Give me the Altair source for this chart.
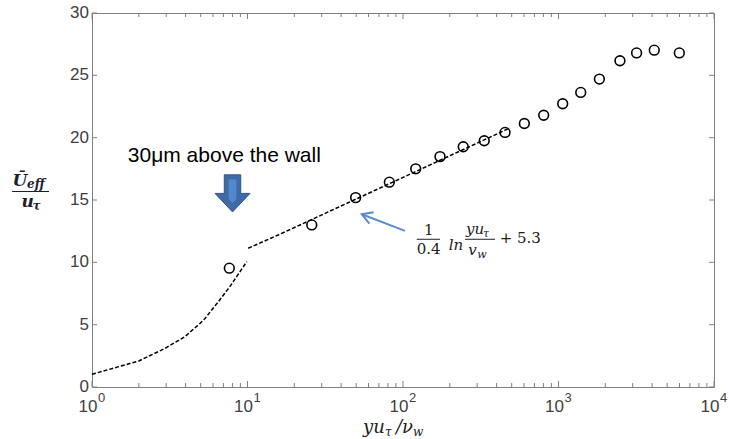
import altair as alt
import pandas as pd

# ---------------- data ----------------
# experimental points (circles)
exp_yplus = [7.64, 25.9, 49.6, 81.7, 120.7, 173, 244, 333, 453, 603, 803,
             1064, 1390, 1832, 2484, 3178, 4129, 5984]
exp_u = [9.53, 13.0, 15.19, 16.43, 17.5, 18.48, 19.27, 19.75, 20.42, 21.14,
         21.8, 22.72, 23.63, 24.7, 26.17, 26.8, 27.02, 26.8]

# viscous-sublayer curve (dashed)
sub_yplus = [1.0, 2.0, 2.95, 3.96, 4.95, 5.33, 6.5, 7.7, 9.9]
sub_u = [1.02, 2.09, 3.1, 4.04, 5.1, 5.5, 6.85, 8.05, 10.06]

# log-law line (dashed)
log_yplus = [10.1, 16.2, 50, 100, 200, 488]
log_u = [11.13, 12.26, 15.08, 16.81, 18.55, 20.78]

# axes
y_ticks = [0, 5, 10, 15, 20, 25, 30]
y_labels = ["0", "5", "10", "15", "20", "25", "30"]
decades = [1, 10, 100, 1000, 10000]
exponents = ["0", "1", "2", "3", "4"]
minor_ticks = [m * d for d in [1, 10, 100, 1000] for m in range(2, 10)]

# annotations (data coordinates)
note_x, note_u = [1.70], [18.08]
block_x, block_u = [8.01], [15.53]
arrow_head_x, arrow_head_u = [54.3], [13.86]
arrow_tail_x, arrow_tail_u = [103], [12.52]

W, H = 622, 374
xs = alt.Scale(type="log", domain=[1, 10000], nice=False)
ys = alt.Scale(domain=[0, 30], nice=False, zero=False)
TICK = "#808080"
LAB = "#404040"
SERIF = "DejaVu Serif"
FC = "#202020"


def X(f="x"):
    return alt.X(f"{f}:Q", scale=xs, axis=None)


def Y(f="u"):
    return alt.Y(f"{f}:Q", scale=ys, axis=None)


def piece(x, u, t, size, dx=0, dy=0, style="normal", weight="normal",
          align="left", baseline="alphabetic", font=SERIF, color=FC):
    df = pd.DataFrame({"x": [x], "u": [u], "t": [t]})
    return alt.Chart(df).mark_text(
        font=font, fontSize=size, fontStyle=style, fontWeight=weight,
        color=color, align=align, baseline=baseline, dx=dx, dy=dy
    ).encode(x=X(), y=Y(), text="t:N")


def pix_piece(px, py, t, size, style="normal", weight="normal", color=FC):
    df = pd.DataFrame({"px": [px], "py": [py], "t": [t]})
    return alt.Chart(df).mark_text(
        font=SERIF, fontSize=size, fontStyle=style, fontWeight=weight,
        color=color, align="left", baseline="alphabetic"
    ).encode(x=alt.X("px:Q", scale=None), y=alt.Y("py:Q", scale=None), text="t:N")


df_exp = pd.DataFrame({"x": exp_yplus, "u": exp_u})
df_sub = pd.DataFrame({"x": sub_yplus, "u": sub_u})
df_log = pd.DataFrame({"x": log_yplus, "u": log_u})

sub_line = alt.Chart(df_sub).mark_line(
    color="black", strokeDash=[4, 2], strokeWidth=1.5
).encode(x=X(), y=Y())
log_line = alt.Chart(df_log).mark_line(
    color="black", strokeDash=[4, 2], strokeWidth=1.5
).encode(x=X(), y=Y())

points = alt.Chart(df_exp).mark_point(
    shape="circle", filled=False, color="black", size=95, strokeWidth=1.6, opacity=1
).encode(x=X(), y=Y())

# inward ticks on all four sides
df_minor = pd.DataFrame({"x": minor_ticks})
df_major = pd.DataFrame({"x": decades})
df_yt = pd.DataFrame({"u": y_ticks, "lab": y_labels})
ticks = [
    alt.Chart(df_minor).mark_rule(color=TICK, strokeWidth=1).encode(
        x=X(), y=alt.value(H), y2=alt.value(H - 4)),
    alt.Chart(df_minor).mark_rule(color=TICK, strokeWidth=1).encode(
        x=X(), y=alt.value(0), y2=alt.value(4)),
    alt.Chart(df_major).mark_rule(color=TICK, strokeWidth=1).encode(
        x=X(), y=alt.value(H), y2=alt.value(H - 6)),
    alt.Chart(df_major).mark_rule(color=TICK, strokeWidth=1).encode(
        x=X(), y=alt.value(0), y2=alt.value(6)),
    alt.Chart(df_yt).mark_rule(color=TICK, strokeWidth=1).encode(
        y=Y(), x=alt.value(0), x2=alt.value(5)),
    alt.Chart(df_yt).mark_rule(color=TICK, strokeWidth=1).encode(
        y=Y(), x=alt.value(W), x2=alt.value(W - 5)),
]

# y tick labels
ylab = alt.Chart(df_yt).mark_text(
    font="Liberation Sans", fontSize=17, color=LAB, align="right", baseline="middle"
).encode(y=Y(), x=alt.value(-3), text="lab:N")

# x tick labels 10^n
df_lab = pd.DataFrame({"x": decades, "base": ["10"] * 5, "e": exponents})
xlab = alt.Chart(df_lab).mark_text(
    font="Liberation Sans", fontSize=17, color=LAB, align="center",
    baseline="alphabetic", dx=-4
).encode(x=X(), y=alt.value(H + 25), text="base:N")
xexp = alt.Chart(df_lab).mark_text(
    font="Liberation Sans", fontSize=13, color=LAB, align="left",
    baseline="alphabetic", dx=6
).encode(x=X(), y=alt.value(H + 15), text="e:N")

# annotation text
note = piece(note_x[0], note_u[0], "30\u03bcm above the wall", 21,
             font="Liberation Sans", color="black")

# block arrow pointing down
df_block = pd.DataFrame({"x": block_x, "u": block_u})
block = alt.Chart(df_block).mark_point(
    shape="M-0.47,-1.06 L0.47,-1.06 L0.47,0 L1,0 L0,1.06 L-1,0 L-0.47,0 Z",
    filled=True, fill="#3f6aa6", stroke="#2f5589", strokeWidth=1, size=1225, opacity=1
).encode(x=X(), y=Y())
block_in = alt.Chart(df_block).mark_point(
    shape="M-0.22,-0.8 L0.22,-0.8 L0.22,0.3 L0,0.55 L-0.22,0.3 Z",
    filled=True, fill="#5389cc", strokeWidth=0, size=1225, opacity=1
).encode(x=X(), y=Y())

# thin blue arrow
df_arrow = pd.DataFrame({"x": arrow_head_x, "u": arrow_head_u,
                         "x2": arrow_tail_x, "u2": arrow_tail_u})
ARROW = "#5b8bd0"
arrow_shaft = alt.Chart(df_arrow).mark_rule(color=ARROW, strokeWidth=2).encode(
    x=X(), y=Y(), x2="x2:Q", y2="u2:Q")
arrow_head = alt.Chart(df_arrow).mark_point(
    shape="M0.87,-0.5 L0,0 L0.87,0.5", filled=False, stroke=ARROW,
    strokeWidth=2, size=576, angle=21, opacity=1
).encode(x=X(), y=Y())

# formula  1/0.4 ln(yu_tau/v_w) + 5.3
formula = [
    piece(146.3, 12.58, "1", 15, align="center", baseline="middle"),
    piece(146.3, 11.08, "0.4", 15, align="center", baseline="middle"),
    piece(197, 11.0, "ln", 15, style="italic"),
    piece(254, 12.3, "yu", 15, style="italic"),
    piece(254, 12.3, "\u03c4", 11, style="italic", dx=17, dy=3),
    piece(263, 10.55, "v", 15, style="italic"),
    piece(263, 10.55, "w", 11, style="italic", dx=9, dy=3),
    piece(568, 11.93, "+ 5.3", 15, align="center", baseline="middle"),
]
df_bars = pd.DataFrame({"x": [122.5, 250.5], "x2": [173, 390.6], "u": [11.85, 11.85]})
form_bars = alt.Chart(df_bars).mark_rule(color=FC, strokeWidth=1).encode(
    x=X(), x2="x2:Q", y=Y())

# y-axis title (fraction U_eff / u_tau), pixel positions relative to plot origin
YC = "#1e1e2e"
ytitle = [
    pix_piece(-79.5, 173, "\u016a", 17, style="italic", weight="bold", color=YC),
    pix_piece(-65, 175, "eff", 12, style="italic", weight="bold", color=YC),
    pix_piece(-70.5, 194, "u", 17, style="italic", weight="bold", color=YC),
    pix_piece(-59.5, 197, "\u03c4", 12, style="italic", weight="bold", color=YC),
]
yt_bar = alt.Chart(pd.DataFrame({"px": [-80], "px2": [-43], "py": [178.5]})).mark_rule(
    color=YC, strokeWidth=1.2
).encode(x=alt.X("px:Q", scale=None), x2="px2:Q", y=alt.Y("py:Q", scale=None))

# x-axis title yu_tau / nu_w
xtitle = [
    pix_piece(271, 420, "yu", 18, style="italic"),
    pix_piece(293, 423, "\u03c4", 12, style="italic"),
    pix_piece(304, 420, "/\u03bd", 18, style="italic"),
    pix_piece(321, 423, "w", 12, style="italic"),
]

chart = alt.layer(
    sub_line, log_line, points, *ticks, ylab, xlab, xexp, note, block, block_in,
    arrow_shaft, arrow_head, *formula, form_bars, *ytitle, yt_bar, *xtitle,
).properties(
    width=W, height=H,
    autosize=alt.AutoSizeParams(type="none"),
    padding={"left": 92, "top": 13, "right": 15, "bottom": 52},
    background="white",
).configure_view(stroke="#808080", strokeWidth=1)

chart.save("out.html", embed_options={"renderer": "svg", "actions": False})
